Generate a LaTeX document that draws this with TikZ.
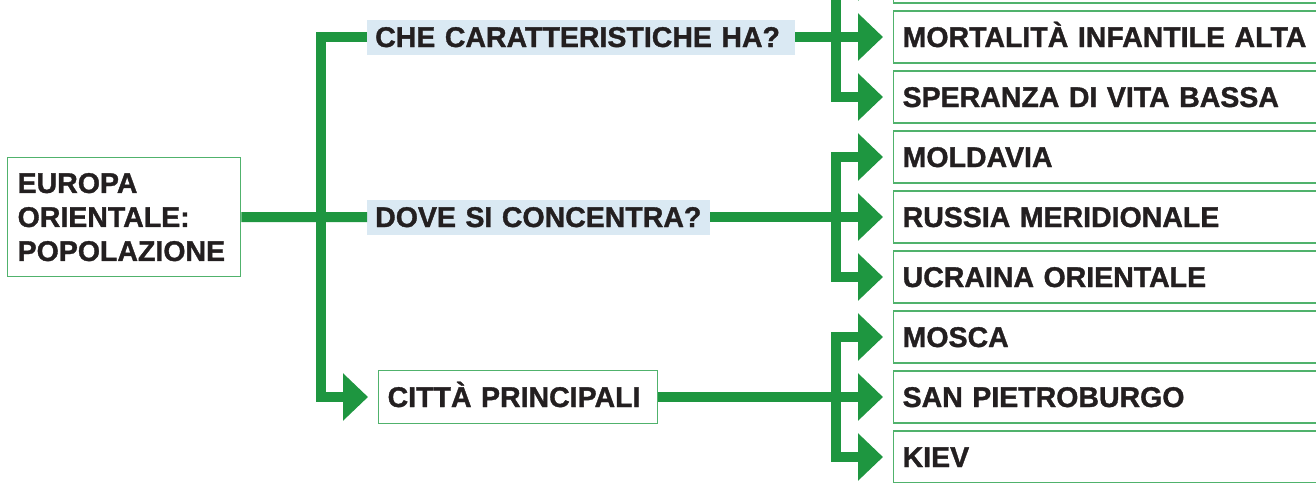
\documentclass[tikz,border=0pt]{standalone}
\usepackage{fontspec}
\setmainfont[BoldFeatures={FakeBold=1.2}]{Liberation Sans}
\usetikzlibrary{arrows.meta}
\definecolor{gr}{RGB}{30,150,64}
\definecolor{bd}{RGB}{80,178,108}
\definecolor{lb}{RGB}{218,233,243}
\definecolor{tx}{RGB}{35,31,32}
\begin{document}
\begin{tikzpicture}[x=1pt,y=-1pt,
  font=\fontsize{28.5}{34}\selectfont\bfseries, text=tx,
  conn/.style={draw=gr,line width=10pt},
  tip/.style={-{Triangle[length=25pt,width=46pt]},shorten >=10pt},
  tips/.style={{Triangle[length=25pt,width=46pt]}-{Triangle[length=25pt,width=46pt]},shorten >=10pt,shorten <=10pt},
  item/.style={draw=bd,line width=1.3pt,anchor=west,text width=480pt,minimum height=52pt,align=left,inner xsep=9pt,text height=20pt,text depth=0pt},
  qlabel/.style={fill=lb,anchor=west,align=left,inner xsep=8pt,inner ysep=0pt,minimum height=35pt,text height=20pt,text depth=0pt},
  mainbox/.style={draw=bd,line width=1.3pt,anchor=north west,minimum width=233pt,minimum height=119pt,text width=213pt,align=left,inner xsep=10pt},
  citybox/.style={draw=bd,line width=1.3pt,anchor=west,text width=261pt,align=left,inner xsep=9pt,minimum height=53pt,text height=20pt,text depth=0pt}
]
\useasboundingbox (0,0) rectangle (1316,482);
\clip (0,0) rectangle (1316,482);
\coordinate (tx) at (321,0);
\coordinate (vx) at (835.5,0);

\node[mainbox] (eu) at (7,157) {EUROPA\\ORIENTALE:\\POPOLAZIONE};
\node[qlabel,text width=412pt] (che) at (367,37) {\mbox{CHE CARATTERISTICHE HA?}};
\node[qlabel,text width=327pt] (dove) at (367,217) {\mbox{DOVE SI CONCENTRA?}};
\node[citybox] (citta) at (378,397) {CITTÀ PRINCIPALI};

\node[item] (top) at (893,-23) {};
\node[item] (mort) at (893,37) {MORTALITÀ INFANTILE ALTA};
\node[item] (sper) at (893,97) {SPERANZA DI VITA BASSA};
\node[item] (mold) at (893,157) {MOLDAVIA};
\node[item] (russ) at (893,217) {RUSSIA MERIDIONALE};
\node[item] (ucr) at (893,277) {UCRAINA ORIENTALE};
\node[item] (mos) at (893,337) {MOSCA};
\node[item] (spb) at (893,397) {SAN PIETROBURGO};
\node[item] (kiev) at (893,457) {KIEV};

% left trunk
\draw[conn,tip] (che.west) -- (che.west -| tx) -- (citta.west -| tx) -- (citta.west);
\draw[conn] (eu.east) -- (dove.west);

% right groups
\draw[conn,tip] (che.east) -- (mort.west);
\draw[conn,tips] (top.west) -- (top.west -| vx) -- (sper.west -| vx) -- (sper.west);

\draw[conn,tip] (dove.east) -- (russ.west);
\draw[conn,tips] (mold.west) -- (mold.west -| vx) -- (ucr.west -| vx) -- (ucr.west);

\draw[conn,tip] (citta.east) -- (spb.west);
\draw[conn,tips] (mos.west) -- (mos.west -| vx) -- (kiev.west -| vx) -- (kiev.west);
\end{tikzpicture}
\end{document}
